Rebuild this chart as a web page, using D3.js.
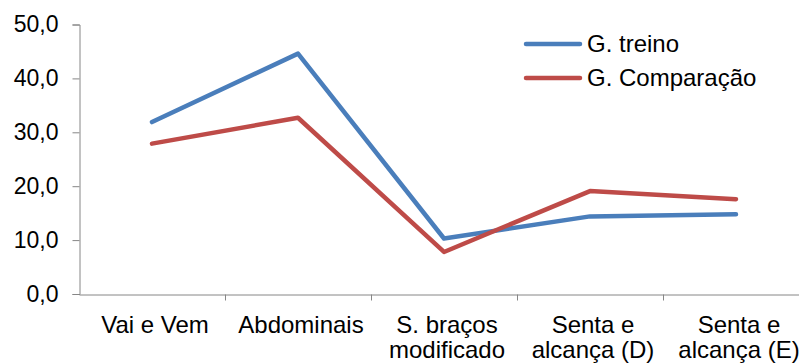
<!DOCTYPE html>
<html><head><meta charset="utf-8">
<script src="https://cdn.jsdelivr.net/npm/d3@7"></script>
<style>html,body{margin:0;padding:0;background:#fff;overflow:hidden}svg{display:block}</style>
</head><body><svg id="c" width="799" height="363"></svg>
<script>
const categories = [["Vai e Vem"], ["Abdominais"], ["S. braços", "modificado"], ["Senta e", "alcança (D)"], ["Senta e", "alcança (E)"]];
const seriesNames = ["G. treino", "G. Comparação"];
const treino = [31.9, 44.6, 10.3, 14.4, 14.8];
const comparacao = [27.9, 32.7, 7.8, 19.1, 17.6];
const yTicks = [0, 10, 20, 30, 40, 50];
const colors = ["#4A7EBB", "#BE4B48"];

const svg = d3.select("#c");
const font = "'Liberation Sans', Arial, sans-serif";
const x = d3.scaleBand().domain(d3.range(categories.length)).range([79, 809]).padding(0);
const y = d3.scaleLinear().domain([0, 50]).range([294, 24.5]);
const axisColor = "#868686";

// y axis
const ya = svg.append("g").attr("transform", "translate(79.5,0)")
  .call(d3.axisLeft(y).tickValues(yTicks).tickSize(7).tickPadding(14)
    .tickFormat(d => d3.format(".1f")(d).replace(".", ",")));
ya.select(".domain").attr("stroke", axisColor);
ya.selectAll(".tick line").attr("stroke", axisColor);
ya.selectAll(".tick text").attr("font-family", font).attr("font-size", 23).attr("fill", "#000");

// x axis
const xa = svg.append("g").attr("transform", "translate(0,294.5)")
  .call(d3.axisBottom(x).tickSize(0).tickFormat(""));
xa.select(".domain").attr("stroke", axisColor);
xa.selectAll(".tick").remove();
const bounds = d3.range(1, categories.length).map(i => x(i));
xa.selectAll("line.b").data(bounds).join("line").attr("class", "b")
  .attr("x1", d => Math.round(d) + 0.5).attr("x2", d => Math.round(d) + 0.5)
  .attr("y1", 0).attr("y2", 6).attr("stroke", axisColor);

// category labels
const lab = svg.append("g");
categories.forEach((lines, i) => {
  const t = lab.append("text").attr("font-family", font).attr("font-size", 24)
    .attr("text-anchor", "middle").attr("fill", "#000");
  lines.forEach((ln, j) => {
    t.append("tspan").attr("x", x(i) + x.bandwidth() / 2 + 3).attr("y", 333 + j * 25).text(ln);
  });
});

// lines
const line = d3.line().x((d, i) => x(i) + x.bandwidth() / 2).y(d => y(d));
[treino, comparacao].forEach((s, k) => {
  svg.append("path").datum(s).attr("d", line).attr("fill", "none")
    .attr("stroke", colors[k]).attr("stroke-width", 4.5)
    .attr("stroke-linejoin", "round").attr("stroke-linecap", "round");
});

// legend
const lg = svg.append("g");
seriesNames.forEach((n, k) => {
  const yy = 44 + k * 34;
  lg.append("line").attr("x1", 526).attr("x2", 580).attr("y1", yy).attr("y2", yy)
    .attr("stroke", colors[k]).attr("stroke-width", 4.5).attr("stroke-linecap", "round");
  lg.append("text").attr("x", 587).attr("y", yy).attr("dy", "0.35em")
    .attr("font-family", font).attr("font-size", 24).attr("fill", "#000").text(n);
});
</script></body></html>
